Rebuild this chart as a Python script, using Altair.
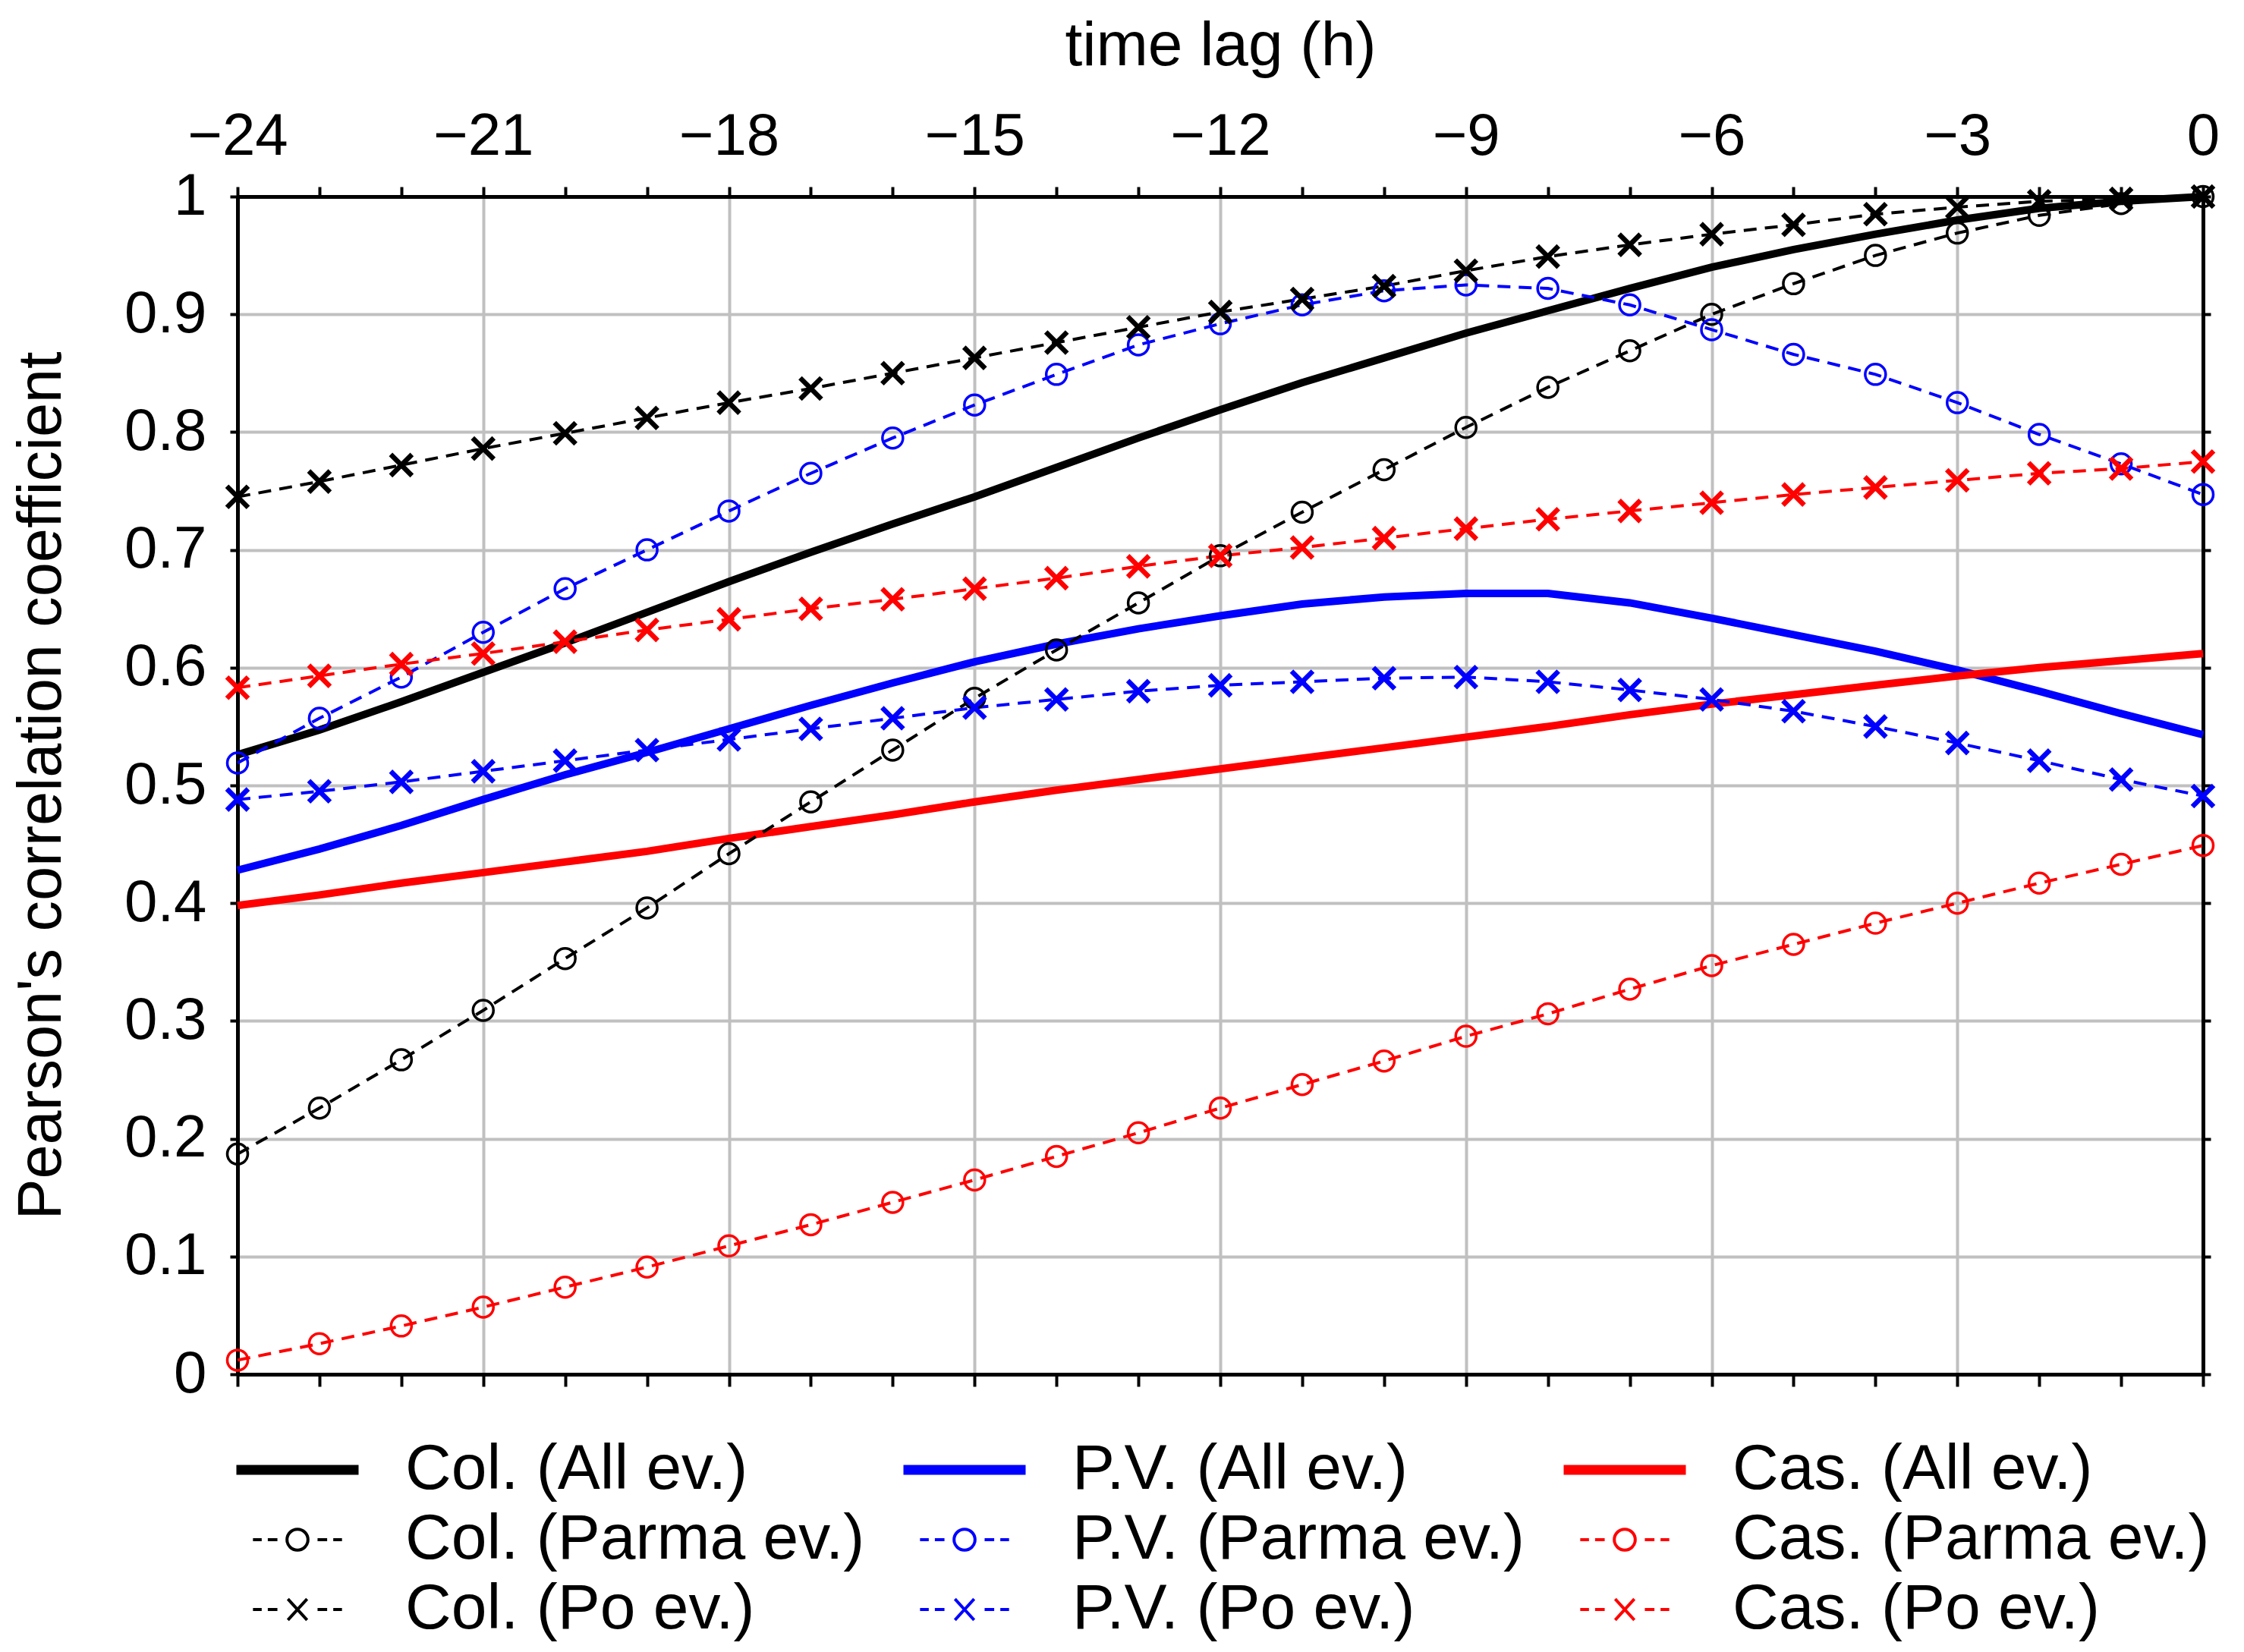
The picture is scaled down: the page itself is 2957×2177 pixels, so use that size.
import altair as alt
import pandas as pd

FONT = "Liberation Sans"

lags = list(range(-24, 1))

col_all = [0.526, 0.547, 0.571, 0.596, 0.621, 0.647, 0.673, 0.698, 0.722, 0.745,
           0.770, 0.795, 0.819, 0.842, 0.863, 0.884, 0.903, 0.922, 0.940, 0.955,
           0.968, 0.980, 0.990, 0.996, 1.000]
col_parma = [0.187, 0.226, 0.267, 0.309, 0.353, 0.396, 0.442, 0.486, 0.530, 0.574,
             0.615, 0.655, 0.695, 0.732, 0.768, 0.804, 0.838, 0.869, 0.900, 0.926,
             0.950, 0.969, 0.984, 0.994, 1.000]
col_po = [0.745, 0.758, 0.772, 0.786, 0.799, 0.812, 0.825, 0.837, 0.850, 0.863,
          0.876, 0.889, 0.902, 0.913, 0.924, 0.937, 0.949, 0.959, 0.968, 0.976,
          0.985, 0.991, 0.996, 0.998, 1.000]
pv_all = [0.428, 0.446, 0.466, 0.488, 0.509, 0.528, 0.548, 0.568, 0.587, 0.605,
          0.620, 0.633, 0.644, 0.654, 0.660, 0.663, 0.663, 0.655, 0.642, 0.628,
          0.614, 0.598, 0.580, 0.561, 0.543]
pv_parma = [0.519, 0.557, 0.592, 0.630, 0.667, 0.700, 0.733, 0.765, 0.795, 0.823,
            0.849, 0.874, 0.892, 0.908, 0.920, 0.925, 0.922, 0.908, 0.887, 0.866,
            0.849, 0.825, 0.798, 0.773, 0.747]
pv_po = [0.488, 0.495, 0.503, 0.512, 0.521, 0.530, 0.539, 0.548, 0.557, 0.566,
         0.573, 0.580, 0.585, 0.588, 0.591, 0.592, 0.588, 0.581, 0.573, 0.563,
         0.550, 0.536, 0.521, 0.505, 0.491]
cas_all = [0.398, 0.407, 0.417, 0.426, 0.435, 0.444, 0.455, 0.465, 0.475, 0.486,
           0.496, 0.505, 0.514, 0.523, 0.532, 0.541, 0.550, 0.560, 0.569, 0.577,
           0.585, 0.593, 0.600, 0.606, 0.612]
cas_parma = [0.012, 0.026, 0.041, 0.057, 0.074, 0.091, 0.109, 0.127, 0.146, 0.165,
             0.185, 0.205, 0.226, 0.246, 0.266, 0.287, 0.306, 0.327, 0.347, 0.365,
             0.383, 0.400, 0.417, 0.433, 0.449]
cas_po = [0.583, 0.593, 0.603, 0.612, 0.622, 0.632, 0.641, 0.650, 0.658, 0.667,
          0.676, 0.686, 0.695, 0.702, 0.710, 0.718, 0.726, 0.733, 0.740, 0.747,
          0.753, 0.759, 0.765, 0.769, 0.775]

# legend order: column by column (station), top to bottom (All / Parma / Po)
series_names = ["Col. (All ev.)", "Col. (Parma ev.)", "Col. (Po ev.)",
                "P.V. (All ev.)", "P.V. (Parma ev.)", "P.V. (Po ev.)",
                "Cas. (All ev.)", "Cas. (Parma ev.)", "Cas. (Po ev.)"]
series_colors = ["#000000"] * 3 + ["#0000ff"] * 3 + ["#ff0000"] * 3
series_kind = ["all", "parma", "po"] * 3
series_values = [col_all, col_parma, col_po, pv_all, pv_parma, pv_po,
                 cas_all, cas_parma, cas_po]

y_ticks = [i / 10 for i in range(11)]

rows = []
for name, colr, kind, vals in zip(series_names, series_colors, series_kind, series_values):
    for lag, v in zip(lags, vals):
        rows.append({"series": name, "hex": colr, "kind": kind, "lag": lag, "r": v})
df = pd.DataFrame(rows)

# legend glyphs (custom symbol paths)
SOLID = "M-3.5,-0.2H3.5M-3.5,-0.07H3.5M-3.5,0.07H3.5M-3.5,0.2H3.5"
DASHES = "M-2.55,0H-2.05M-1.7,0H-1.15M1.15,0H1.7M2.05,0H2.55"
CIRC = DASHES + "M-0.6,0A0.6,0.6,0,1,1,0.6,0A0.6,0.6,0,1,1,-0.6,0"
CROSS = DASHES + "M-0.55,-0.6L0.55,0.6M-0.55,0.6L0.55,-0.6"
kind_path = {"all": SOLID, "parma": CIRC, "po": CROSS}
legend_paths = [kind_path[k] for k in series_kind]
XMARK = "M-1,-1L1,1M-1,1L1,-1"

GRID = "#c0c0c0"
xscale = alt.Scale(domain=[-24, 0], nice=False, zero=False)
yscale = alt.Scale(domain=[0, 1], nice=False, zero=False)

common_axis = dict(tickColor="black", tickWidth=4, domainColor="black", domainWidth=5,
                   labelColor="black", labelFont=FONT, titleFont=FONT,
                   titleColor="black", titleFontWeight="normal")

x_top = alt.X("lag:Q", scale=xscale, axis=alt.Axis(
    orient="top", values=lags,
    labelExpr="datum.value % 3 === 0 ? format(datum.value, 'd') : ''",
    labelOverlap=False, labelFlush=False, labelFontSize=78, labelPadding=27,
    tickSize=13, title="time lag (h)", titleFontSize=82, titlePadding=39,
    grid=True, gridColor=GRID, gridWidth=4,
    gridOpacity={"condition": {"test": "datum.value % 3 === 0", "value": 1}, "value": 0},
    **common_axis))
x_bottom = alt.X("lag:Q", scale=xscale, axis=alt.Axis(
    orient="bottom", values=lags, labels=False, title=None, grid=False,
    tickSize=16, **common_axis))
y_left = alt.Y("r:Q", scale=yscale, axis=alt.Axis(
    orient="left", values=y_ticks, format=".1~f", labelFlush=False,
    labelOverlap=False, labelFontSize=78, labelPadding=31, tickSize=10,
    title="Pearson's correlation coefficient", titleFontSize=81, titlePadding=67,
    grid=True, gridColor=GRID, gridWidth=4, **common_axis))
y_right = alt.Y("r:Q", scale=yscale, axis=alt.Axis(
    orient="right", values=y_ticks, labels=False, title=None, grid=False,
    tickSize=10, **common_axis))

hex_color = alt.Color("hex:N", scale=None)
base = alt.Chart(df)

solid = base.transform_filter("datum.kind === 'all'").mark_line(
    strokeWidth=10).encode(x=x_top, y=y_left, color=hex_color, detail="series:N")

dashed = base.transform_filter("datum.kind !== 'all'").mark_line(
    strokeWidth=4, strokeDash=[17, 11]).encode(
    x=x_bottom, y=y_right, color=hex_color, detail="series:N")

circles = base.transform_filter("datum.kind === 'parma'").mark_point(
    shape="circle", filled=False, size=729, strokeWidth=3.5, opacity=1).encode(
    x=alt.X("lag:Q", axis=None), y=alt.Y("r:Q", axis=None), color=hex_color)

crosses = base.transform_filter("datum.kind === 'po'").mark_point(
    shape=XMARK, filled=False, size=784, strokeWidth=6.5, opacity=1).encode(
    x=alt.X("lag:Q", axis=None), y=alt.Y("r:Q", axis=None), color=hex_color)

leg = alt.Legend(title=None, orient="none", legendX=0, legendY=1636, columns=3,
                 columnPadding=42, rowPadding=8, labelFontSize=84, labelFont=FONT,
                 labelColor="black", labelLimit=2000, symbolSize=2116,
                 symbolStrokeWidth=4, symbolOffset=37, labelOffset=100)

legend_layer = base.transform_filter("false").mark_point(filled=False, opacity=1).encode(
    x=alt.X("lag:Q", axis=None), y=alt.Y("r:Q", axis=None),
    color=alt.Color("series:N", scale=alt.Scale(domain=series_names, range=series_colors), legend=leg),
    shape=alt.Shape("series:N", scale=alt.Scale(domain=series_names, range=legend_paths), legend=leg))

chart = alt.layer(solid, dashed, circles, crosses, legend_layer).properties(
    width=2590, height=1552,
    autosize=alt.AutoSizeParams(type="none"),
    padding={"left": 305, "top": 251, "right": 46, "bottom": 358},
    background="white",
).configure_view(stroke=None).configure(font=FONT)

chart.save("out.html", embed_options={"renderer": "svg", "actions": False})
